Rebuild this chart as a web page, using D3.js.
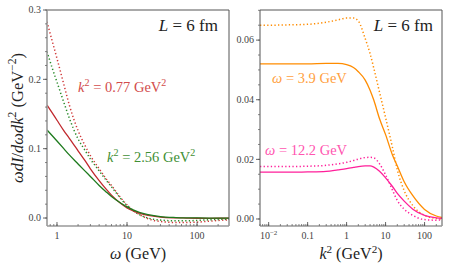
<!DOCTYPE html>
<html>
<head>
<meta charset="utf-8">
<script src="https://cdn.jsdelivr.net/npm/d3@7"></script>
<style>
  body { margin: 0; background: #fff; }
  svg { display: block; }
</style>
</head>
<body>
<svg id="drawing_region"></svg>
<script>
// left panel: omega scan at fixed k^2
const omega = [0.72, 0.85, 1, 1.25, 1.5, 2, 2.5, 3, 4, 5, 6, 8, 10, 15, 20, 30, 50, 70, 100, 150, 200, 286];
const redSolid = [0.163, 0.152, 0.141, 0.126, 0.115, 0.097, 0.083, 0.071, 0.054, 0.042, 0.033, 0.0215, 0.0145, 0.007, 0.0038, 0.0014, 0.0003, 0.0, -0.0003, -0.0004, -0.0003, -0.0002];
const redDotted = [0.283, 0.256, 0.230, 0.193, 0.163, 0.126, 0.105, 0.090, 0.071, 0.057, 0.047, 0.030, 0.019, 0.005, -0.001, -0.005, -0.0065, -0.0065, -0.006, -0.0045, -0.0035, -0.0025];
const greenSolid = [0.127, 0.119, 0.111, 0.100, 0.091, 0.078, 0.068, 0.060, 0.047, 0.038, 0.031, 0.022, 0.016, 0.008, 0.0048, 0.002, 0.0007, 0.0003, 0.0001, 0.0, 0.0, 0.0];
const greenDotted = [0.240, 0.217, 0.196, 0.167, 0.144, 0.114, 0.098, 0.085, 0.068, 0.055, 0.045, 0.029, 0.018, 0.005, 0.0, -0.003, -0.004, -0.004, -0.0035, -0.0025, -0.002, -0.0015];

// right panel: k^2 scan at fixed omega
const k2 = [0.006, 0.01, 0.03, 0.1, 0.3, 0.6, 1, 1.5, 2, 3, 4, 5, 7, 10, 15, 20, 30, 50, 100, 200, 280];
const orangeSolid = [0.052, 0.052, 0.052, 0.052, 0.0522, 0.0522, 0.0518, 0.0508, 0.0494, 0.0466, 0.0432, 0.0398, 0.0336, 0.0283, 0.0215, 0.0178, 0.0125, 0.0078, 0.0032, 0.0010, 0.0005];
const orangeDotted = [0.065, 0.065, 0.0651, 0.0653, 0.066, 0.0668, 0.0674, 0.0674, 0.0664, 0.0605, 0.0555, 0.0505, 0.0425, 0.034, 0.024, 0.0165, 0.0095, 0.0045, 0.0012, 0.0002, 0.0];
const pinkSolid = [0.0157, 0.0157, 0.0157, 0.0158, 0.016, 0.0165, 0.0169, 0.0173, 0.0176, 0.0178, 0.0178, 0.0174, 0.016, 0.0138, 0.0109, 0.0086, 0.006, 0.0033, 0.0012, 0.0004, 0.0002];
const pinkDotted = [0.0176, 0.0176, 0.0176, 0.0177, 0.018, 0.0185, 0.019, 0.0196, 0.0201, 0.0206, 0.0207, 0.0205, 0.0185, 0.0148, 0.0097, 0.0062, 0.0033, 0.0012, -0.0002, -0.0004, -0.0003];

// ticks
const leftYTicks = [0.0, 0.1, 0.2, 0.3];
const leftXTicks = [1, 10, 100];
const leftXLabels = [['1'], ['10'], ['100']];
const rightYTicks = [0.00, 0.02, 0.04, 0.06];
const rightXTicks = [0.01, 0.1, 1, 10, 100];
const rightXLabels = [['10', '−2'], ['0.1'], ['1'], ['10'], ['100']];

const W = 450, H = 270;
const serif = '"Liberation Serif", "DejaVu Serif", serif';

const svg = d3.select('#drawing_region').attr('width', W).attr('height', H);

// write a little math string: parts = [text, italic?, sup?]
function mathText(sel, x, y, parts, size, color, anchor) {
    const t = sel.append('text')
        .attr('x', x).attr('y', y)
        .attr('font-family', serif)
        .attr('font-size', size)
        .attr('fill', color)
        .attr('text-anchor', anchor || 'start');
    let up = false;
    parts.forEach(p => {
        const ts = t.append('tspan').text(p[0]);
        if (p[1]) ts.attr('font-style', 'italic');
        if (p[2]) {
            ts.attr('font-size', size * 0.7);
            if (!up) { ts.attr('dy', -size * 0.4); up = true; }
        } else if (up) {
            ts.attr('dy', size * 0.4); up = false;
        }
    });
    return t;
}

function logMinor(domain) {
    const out = [];
    for (let e = Math.floor(Math.log10(domain[0])); e <= Math.ceil(Math.log10(domain[1])); e++) {
        for (let m = 1; m < 10; m++) {
            const v = m * Math.pow(10, e);
            if (v >= domain[0] && v <= domain[1]) out.push(v);
        }
    }
    return out;
}

function panel(cfg) {
    const g = svg.append('g');
    const x = d3.scaleLog().domain(cfg.xDomain).range([cfg.left, cfg.right]);
    const y = d3.scaleLinear().domain(cfg.yDomain).range([cfg.bottom, cfg.top]);

    // curves
    const clip = 'clip' + cfg.left;
    g.append('clipPath').attr('id', clip).append('rect')
        .attr('x', cfg.left).attr('y', cfg.top)
        .attr('width', cfg.right - cfg.left).attr('height', cfg.bottom - cfg.top);
    const line = d3.line().x(d => x(d[0])).y(d => y(d[1])).curve(d3.curveMonotoneX);
    cfg.series.forEach(s => {
        g.append('path')
            .datum(cfg.xs.map((v, i) => [v, s.values[i]]))
            .attr('clip-path', `url(#${clip})`)
            .attr('d', line)
            .attr('fill', 'none')
            .attr('stroke', s.color)
            .attr('stroke-width', s.dotted ? 1.5 : 1.3)
            .attr('stroke-dasharray', s.dotted ? '1.3,2.3' : null);
    });

    // frame
    g.append('line').attr('x1', cfg.left).attr('x2', cfg.right).attr('y1', cfg.top).attr('y2', cfg.top)
        .attr('stroke', '#555').attr('stroke-width', 1);
    g.append('line').attr('x1', cfg.right).attr('x2', cfg.right).attr('y1', cfg.top).attr('y2', cfg.bottom)
        .attr('stroke', '#555').attr('stroke-width', 1);
    g.append('line').attr('x1', cfg.left).attr('x2', cfg.left).attr('y1', cfg.top).attr('y2', cfg.bottom)
        .attr('stroke', cfg.leftSpine).attr('stroke-width', cfg.leftSpineW);
    g.append('line').attr('x1', cfg.left).attr('x2', cfg.right).attr('y1', cfg.bottom).attr('y2', cfg.bottom)
        .attr('stroke', '#999').attr('stroke-width', 1.4);

    // y ticks (outward)
    const yAxis = g.append('g').attr('transform', `translate(${cfg.left},0)`);
    const yMinor = d3.range(0, cfg.yDomain[1] + 1e-9, cfg.yMinorStep);
    yAxis.selectAll('.ym').data(yMinor).enter().append('line')
        .attr('x1', -2).attr('x2', 0).attr('y1', d => y(d)).attr('y2', d => y(d))
        .attr('stroke', '#666').attr('stroke-width', 0.8);
    yAxis.selectAll('.yM').data(cfg.yTicks).enter().append('line')
        .attr('x1', -4).attr('x2', 0).attr('y1', d => y(d)).attr('y2', d => y(d))
        .attr('stroke', '#555').attr('stroke-width', 0.9);
    yAxis.selectAll('.yl').data(cfg.yTicks).enter().append('text')
        .attr('x', -6).attr('y', d => y(d)).attr('dy', '0.33em')
        .attr('text-anchor', 'end')
        .attr('font-family', serif).attr('font-size', 10).attr('fill', '#444')
        .text(d => d3.format(cfg.yFormat)(d));

    // x ticks (inward)
    const xAxis = g.append('g').attr('transform', `translate(0,${cfg.bottom})`);
    xAxis.selectAll('.xm').data(logMinor(cfg.xDomain)).enter().append('line')
        .attr('x1', d => x(d)).attr('x2', d => x(d)).attr('y1', 0).attr('y2', -2)
        .attr('stroke', '#666').attr('stroke-width', 0.8);
    xAxis.selectAll('.xM').data(cfg.xTicks).enter().append('line')
        .attr('x1', d => x(d)).attr('x2', d => x(d)).attr('y1', 0).attr('y2', -4)
        .attr('stroke', '#555').attr('stroke-width', 0.9);
    cfg.xTicks.forEach((v, i) => {
        const lab = cfg.xLabels[i];
        const parts = lab.length > 1 ? [[lab[0], false, false], [lab[1], false, true]] : [[lab[0], false, false]];
        mathText(xAxis, x(v), 13, parts, 10, '#444', 'middle');
    });

    return { g, x, y };
}

const left = panel({
    left: 47, right: 229, top: 10, bottom: 226,
    xDomain: [0.72, 286], yDomain: [-0.0115, 0.3],
    xs: omega,
    yTicks: leftYTicks, yMinorStep: 0.02, yFormat: '.1f',
    xTicks: leftXTicks, xLabels: leftXLabels,
    leftSpine: '#999', leftSpineW: 1.6,
    series: [
        { values: redDotted, color: '#d03a3a', dotted: true },
        { values: greenDotted, color: '#2a8a2a', dotted: true },
        { values: redSolid, color: '#c0282d', dotted: false },
        { values: greenSolid, color: '#1d7a1d', dotted: false }
    ]
});

const right = panel({
    left: 260, right: 442, top: 10, bottom: 226,
    xDomain: [0.006, 280], yDomain: [-0.00235, 0.0701],
    xs: k2,
    yTicks: rightYTicks, yMinorStep: 0.005, yFormat: '.2f',
    xTicks: rightXTicks, xLabels: rightXLabels,
    leftSpine: '#555', leftSpineW: 1,
    series: [
        { values: orangeDotted, color: '#ff8c00', dotted: true },
        { values: orangeSolid, color: '#ff8c00', dotted: false },
        { values: pinkDotted, color: '#ff1f9a', dotted: true },
        { values: pinkSolid, color: '#ff1f9a', dotted: false }
    ]
});

// annotations
mathText(svg, 218, 31, [['L', true], [' = 6 fm']], 17, '#222', 'end');
mathText(svg, 433, 31, [['L', true], [' = 6 fm']], 17, '#222', 'end');
mathText(svg, 78, 92, [['k', true], ['2', false, true], [' = 0.77 GeV'], ['2', false, true]], 14.5, '#d24b4b');
mathText(svg, 107, 162, [['k', true], ['2', false, true], [' = 2.56 GeV'], ['2', false, true]], 14.5, '#3f8f35');
mathText(svg, 272, 83, [['ω', true], [' = 3.9 GeV']], 14.5, '#ffa040');
mathText(svg, 265, 155, [['ω', true], [' = 12.2 GeV']], 14.5, '#ff55b0');

// axis titles
mathText(svg, 138, 259, [['ω', true], [' (GeV)']], 16, '#222', 'middle');
mathText(svg, 351, 259, [['k', true], ['2', false, true], [' (GeV'], ['2', false, true], [')']], 16, '#222', 'middle');
const yl = svg.append('g').attr('transform', 'translate(23,118) rotate(-90)');
mathText(yl, 0, 0, [['ωdI', true], ['/', false], ['dωdk', true], ['2', false, true], [' (GeV'], ['−2', false, true], [')']], 16.5, '#222', 'middle');
</script>
</body>
</html>
